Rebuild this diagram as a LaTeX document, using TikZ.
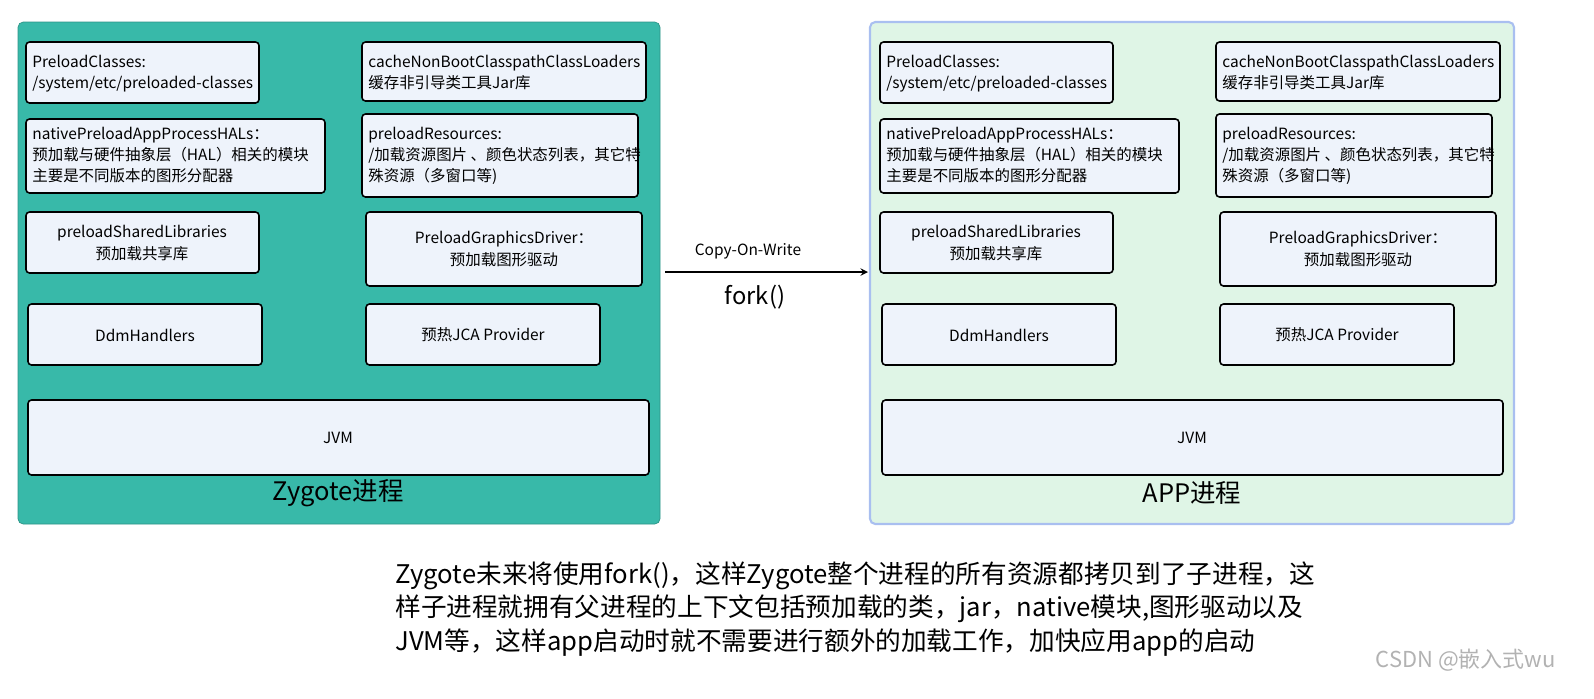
\documentclass[tikz,border=0pt]{standalone}
\usepackage{fontspec}
\setmainfont{Noto Sans CJK SC}
\begin{document}
\begin{tikzpicture}[x=0.02cm,y=-0.02cm,
 ib/.style={draw=black,line width=0.9pt,fill=inner,rounded corners=2pt},
 lt/.style={font=\fontsize{8.8}{12}\selectfont,align=left,anchor=north west,inner sep=0pt},
 ct/.style={font=\fontsize{8.8}{12}\selectfont,align=center,inner sep=0pt}]
\definecolor{inner}{HTML}{EEF3FB}
\definecolor{teal}{HTML}{38B9A9}
\definecolor{lgreen}{HTML}{DFF5E6}
\definecolor{lblue}{HTML}{A9BFF0}
\useasboundingbox (0,0) rectangle (1594,698);
\draw[fill=teal,draw=teal!80!black,rounded corners=3pt] (18,22) rectangle (660,524);
\draw[fill=lgreen,draw=lblue,line width=1.2pt,rounded corners=3pt] (870,22) rectangle (1514,524);
\foreach \o/\p/\t in {0/L/Zygote进程,854/R/APP进程}{
 \begin{scope}[xshift=\o*0.02cm]
 \draw[ib] (26,42) rectangle (259,103); \node[lt] (\p a) at (32,55) {PreloadClasses:\\/system/etc/preloaded-classes};
 \draw[ib] (362,42) rectangle (646,101); \node[lt] (\p b) at (368,55) {cacheNonBootClasspathClassLoaders\\缓存非引导类工具Jar库};
 \draw[ib] (26,119) rectangle (325,193); \node[lt] (\p c) at (32,127) {nativePreloadAppProcessHALs：\\预加载与硬件抽象层（HAL）相关的模块\\主要是不同版本的图形分配器};
 \draw[ib] (362,114) rectangle (638,197); \node[lt] (\p d) at (368,127) {preloadResources:\\/加载资源图片 、颜色状态列表，其它特\\殊资源（多窗口等)};
 \draw[ib] (26,212) rectangle (259,273); \node[ct] (\p e) at (142,243) {preloadSharedLibraries\\预加载共享库};
 \draw[ib] (366,212) rectangle (642,286); \node[ct] (\p f) at (504,249) {PreloadGraphicsDriver：\\预加载图形驱动};
 \draw[ib] (28,304) rectangle (262,365); \node[ct] (\p g) at (145,335) {DdmHandlers};
 \draw[ib] (366,304) rectangle (600,365); \node[ct] (\p h) at (483,335) {预热JCA Provider};
 \draw[ib] (28,400) rectangle (649,475); \node[ct] (\p i) at (338,438) {JVM};
 \node[font=\fontsize{14.5}{16}\selectfont] (\p t) at (338,493) {\t};
 \end{scope}}
\coordinate (s) at (665,272); \coordinate (e) at (868,272);
\draw[-stealth,line width=0.9pt] (s) -- (e);
\node[font=\fontsize{8.8}{10}\selectfont] (cow) at (748,251) {Copy-On-Write};
\node[font=\fontsize{13.5}{15}\selectfont] (fk) at (755,297) {fork()};
\node[anchor=north west,align=left,inner sep=0pt,font=\fontsize{14.6}{19.3}\selectfont] (txt) at (395,561) {Zygote未来将使用fork()，这样Zygote整个进程的所有资源都拷贝到了子进程，这\\样子进程就拥有父进程的上下文包括预加载的类，jar，native模块,图形驱动以及\\JVM等，这样app启动时就不需要进行额外的加载工作，加快应用app的启动};
\node[anchor=east,text=gray!60,font=\fontsize{12.5}{13}\selectfont] (wm) at (1562,660) {CSDN @嵌入式wu};
\end{tikzpicture}
\end{document}
